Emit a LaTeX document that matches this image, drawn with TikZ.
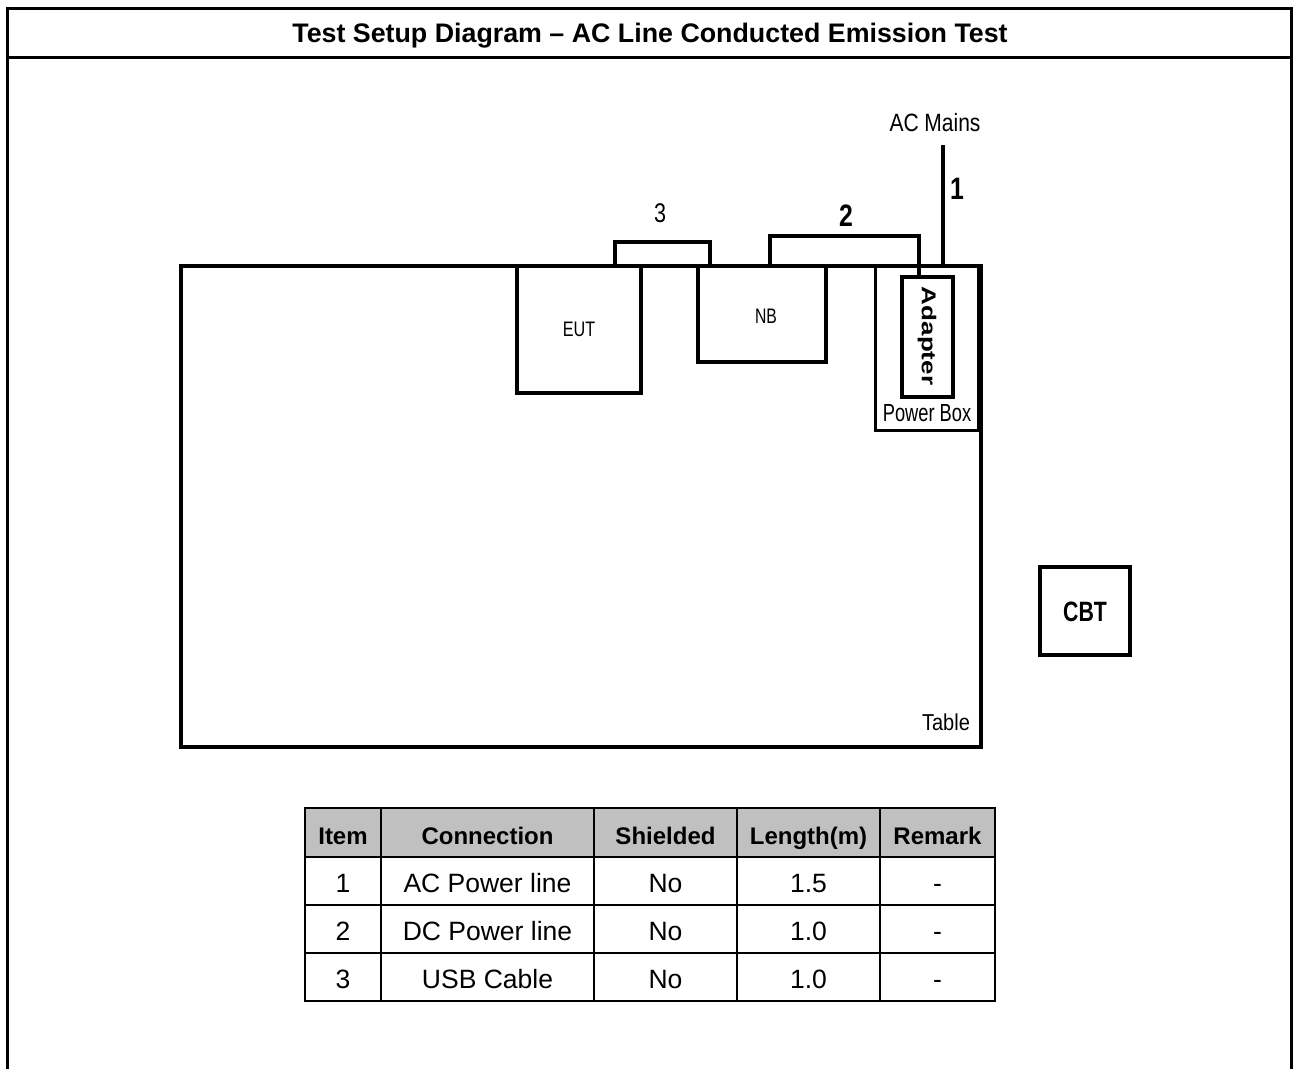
\documentclass[tikz,border=0pt]{standalone}
\usepackage{fontspec}
\setmainfont{Liberation Sans}
\usetikzlibrary{calc}
\newcommand\sqz[2]{\scalebox{#1}[1]{#2}}
\definecolor{hdrgray}{RGB}{192,192,192}
\begin{document}
\begin{tikzpicture}[x=1pt,y=-1pt,
  box/.style={draw, inner sep=0pt, outer sep=0pt, anchor=north west},
  lbl/.style={inner sep=0pt, outer sep=0pt, anchor=base},
  cable/.style={line width=3.5pt},
  grid/.style={line width=2pt},
  hd/.style={lbl, font=\fontsize{24}{28}\selectfont\bfseries},
  bd/.style={lbl, font=\fontsize{26.5}{30}\selectfont},
]
\useasboundingbox (0,0) rectangle (1295,1068);
% frame
\draw[line width=3pt] (7,1080) -- (7,8) -- (1291,8) -- (1291,1080);
\draw[line width=3pt] (7,57) -- (1291,57);
\node[lbl, font=\fontsize{26.8}{30}\selectfont\bfseries] (title) at (650,42.6) {Test Setup Diagram – AC Line Conducted Emission Test};
% boxes
\node[box, line width=4pt, minimum width=800pt, minimum height=481pt] (table) at (181,266) {};
\node[box, line width=3.5pt, minimum width=124pt, minimum height=127pt] (eut) at (517,266) {};
\node[box, line width=3.5pt, minimum width=128pt, minimum height=96pt] (nb) at (698,266) {};
\node[box, line width=3pt, minimum width=103pt, minimum height=164pt] (pbox) at (875,266) {};
\node[box, line width=3.5pt, minimum width=51pt, minimum height=120pt] (adapter) at (902,277) {};
\node[box, line width=4pt, minimum width=90pt, minimum height=88pt] (cbt) at (1040,567) {};
% labels
\node[lbl, font=\fontsize{21}{24}\selectfont] (eutl) at (579,336.5) {\sqz{0.77}{EUT}};
\node[lbl, font=\fontsize{21}{24}\selectfont] (nbl) at (766,323.5) {\sqz{0.75}{NB}};
\node[inner sep=0pt, font=\fontsize{20}{24}\selectfont\bfseries, rotate=-90] (adl) at (927,336) {\sqz{1.3}{Adapter}};
\node[lbl, font=\fontsize{24.7}{28}\selectfont] (pbl) at (927,421.8) {\sqz{0.74}{Power Box}};
\node[lbl, font=\fontsize{23}{28}\selectfont] (tbl) at (946,730.2) {\sqz{0.87}{Table}};
\node[lbl, font=\fontsize{28}{32}\selectfont\bfseries] (cbtl) at (1085,621) {\sqz{0.76}{CBT}};
\node[lbl, font=\fontsize{25}{30}\selectfont] (acm) at (935,131) {\sqz{0.84}{AC Mains}};
\node[lbl, font=\fontsize{31}{34}\selectfont\bfseries] (n1) at (957,199) {\sqz{0.8}{1}};
\node[lbl, font=\fontsize{31}{34}\selectfont\bfseries] (n2) at (846,226) {\sqz{0.8}{2}};
\node[lbl, font=\fontsize{27}{30}\selectfont] (n3) at (660,222.7) {\sqz{0.8}{3}};
% cables
\coordinate (x3a) at (615,0); \coordinate (x3b) at (710,0); \coordinate (y3) at (0,242);
\draw[cable] (eut.north -| x3a) -- (x3a |- y3) -- (x3b |- y3) -- (nb.north -| x3b);
\coordinate (x2a) at (770,0); \coordinate (x2b) at (919,0); \coordinate (y2) at (0,236);
\draw[cable] (nb.north -| x2a) -- (x2a |- y2) -- (x2b |- y2) -- (adapter.north -| x2b);
\coordinate (acin) at (943,145);
\draw[cable] (acin) -- (acin |- table.north);
% data table
\fill[hdrgray] (305,808) rectangle (995,857);
\draw[grid] (305,808) rectangle (995,1001);
\foreach \yy in {857,905,953} \draw[grid] (305,\yy) -- (995,\yy);
\foreach \xx in {381,594,737,880} \draw[grid] (\xx,808) -- (\xx,1001);
\node[hd] (h1) at (343,844.6) {Item};
\node[hd] (h2) at (487.5,844.6) {Connection};
\node[hd] (h3) at (665.5,844.6) {Shielded};
\node[hd] (h4) at (808.5,844.6) {Length(m)};
\node[hd] (h5) at (937.5,844.6) {Remark};
\foreach \r/\yy/\a/\b/\c in {1/892.5/AC Power line/No/1.5, 2/940.5/DC Power line/No/1.0, 3/988.5/USB Cable/No/1.0}{
  \node[bd] (r\r c1) at (343,\yy) {\r};
  \node[bd] (r\r c2) at (487.5,\yy) {\a};
  \node[bd] (r\r c3) at (665.5,\yy) {\b};
  \node[bd] (r\r c4) at (808.5,\yy) {\c};
  \node[bd] (r\r c5) at (937.5,\yy) {-};
}
\end{tikzpicture}
\end{document}
